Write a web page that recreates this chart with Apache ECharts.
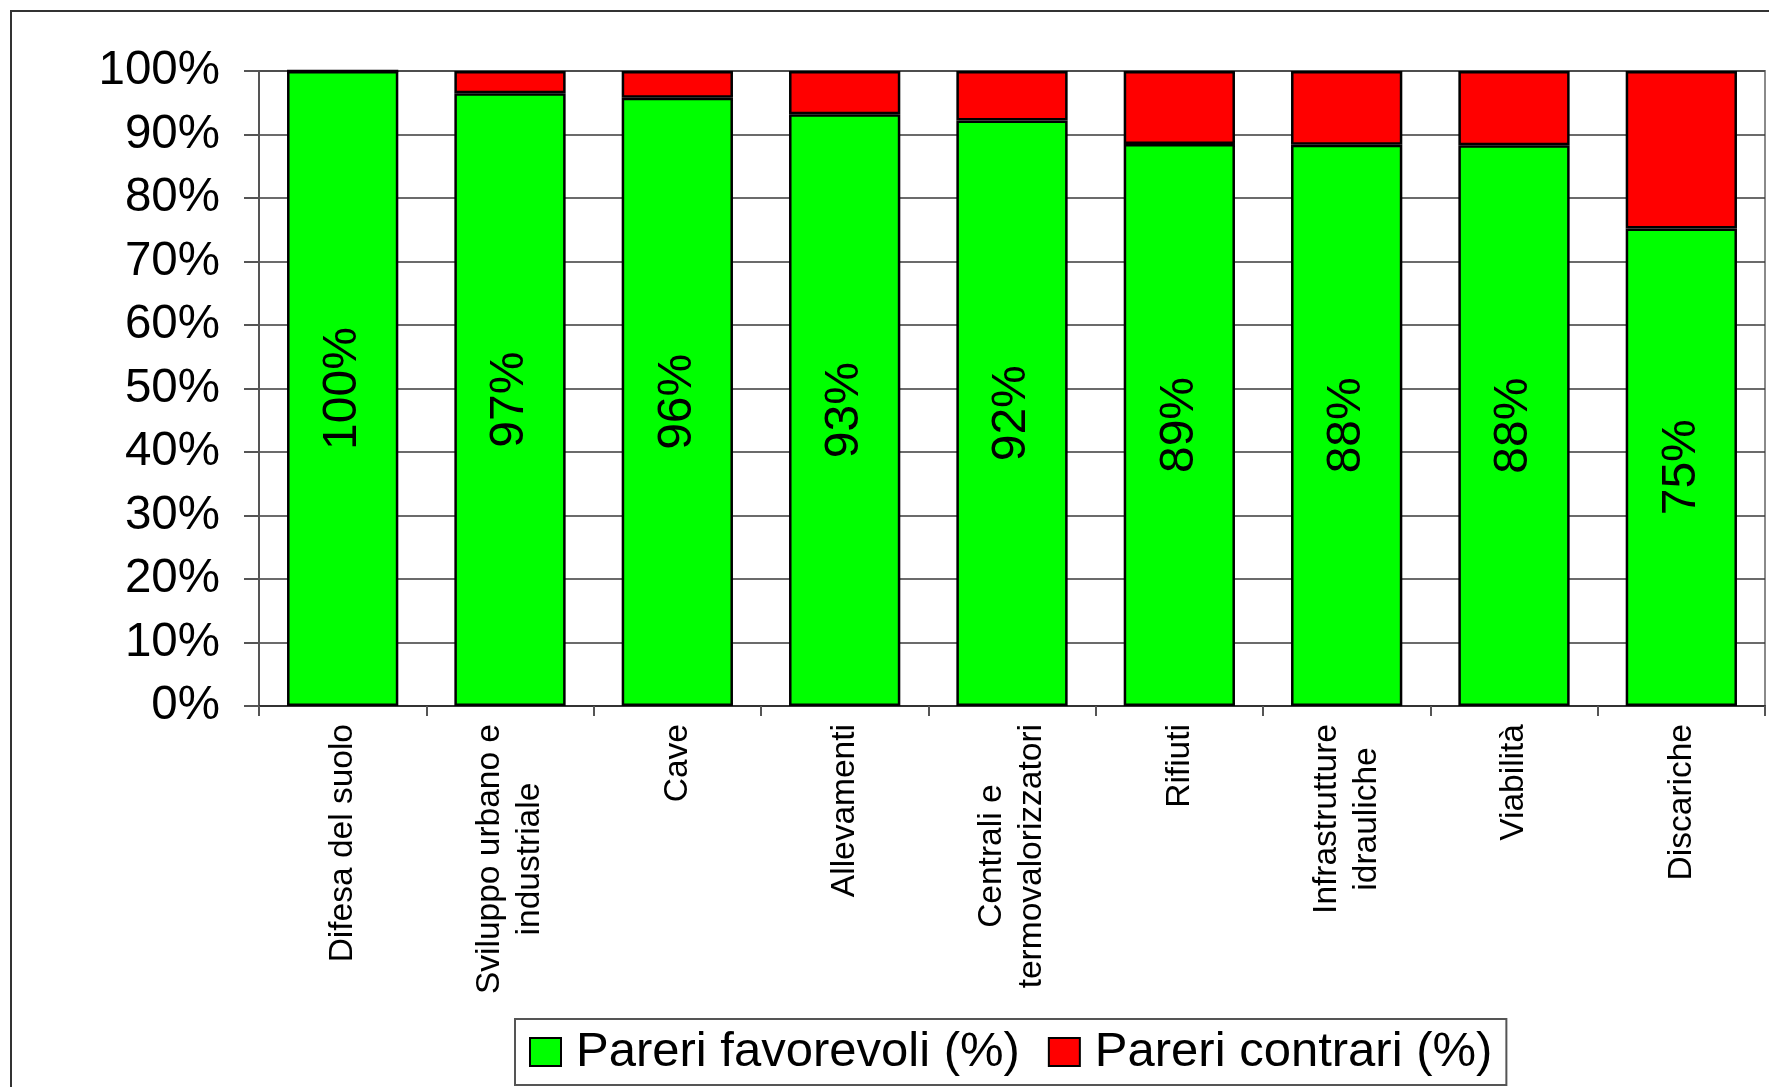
<!DOCTYPE html>
<html>
<head>
<meta charset="utf-8">
<script src="https://cdn.jsdelivr.net/npm/echarts@6/dist/echarts.min.js"></script>
<style>
html,body{margin:0;padding:0;background:#fff;}
#chart{width:1769px;height:1087px;}
</style>
</head>
<body>
<div id="chart"></div>
<script>
const categories = [
  'Difesa del suolo',
  'Sviluppo urbano e\nindustriale',
  'Cave',
  'Allevamenti',
  'Centrali e\ntermovalorizzatori',
  'Rifiuti',
  'Infrastrutture\nidrauliche',
  'Viabilità',
  'Discariche'
];
const favorevoli = [100, 96.5, 95.8, 93.2, 92.2, 88.5, 88.4, 88.3, 75.2];
const contrari = [0, 3.5, 4.2, 6.8, 7.8, 11.5, 11.6, 11.7, 24.8];
const seriesNames = ['Pareri favorevoli (%)', 'Pareri contrari (%)'];
const yTicks = [0, 10, 20, 30, 40, 50, 60, 70, 80, 90, 100];

const FONT = '"Liberation Sans", Arial, sans-serif';
const chart = echarts.init(document.getElementById('chart'));

chart.setOption({
  animation: false,
  backgroundColor: '#fff',
  graphic: [{
    type: 'rect',
    shape: { x: 11, y: 11, width: 1800, height: 1100 },
    style: { fill: 'none', stroke: '#333', lineWidth: 2 },
    silent: true,
    z: -10
  }],
  grid: {
    left: 259, right: 4, top: 71, bottom: 381,
    show: true, borderColor: '#8a8a8a', borderWidth: 2,
    containLabel: false
  },
  legend: {
    data: seriesNames,
    left: 515, top: 1019,
    orient: 'horizontal',
    padding: [8, 14, 8, 14],
    itemGap: 28,
    itemWidth: 31, itemHeight: 28,
    icon: 'rect',
    borderColor: '#555', borderWidth: 2,
    backgroundColor: '#fff',
    itemStyle: { borderColor: '#000', borderWidth: 2 },
    textStyle: { fontFamily: FONT, fontSize: 49, color: '#000', lineHeight: 50, padding: [0, 0, 0, 10] }
  },
  xAxis: {
    type: 'category',
    data: categories,
    axisLine: { lineStyle: { color: '#333', width: 2 } },
    axisTick: { show: true, length: 10, alignWithLabel: false, lineStyle: { color: '#555', width: 2 } },
    axisLabel: {
      interval: 0,
      rotate: 90,
      margin: 18,
      color: '#000',
      fontFamily: FONT,
      fontSize: 33.5,
      lineHeight: 40,
      formatter: function (v) {
        return v.split('\n').map(function (l) { return '{c|' + l + '}'; }).join('\n');
      },
      rich: {
        c: { align: 'center', fontFamily: FONT, fontSize: 33.5, lineHeight: 40, color: '#000' }
      }
    },
    splitLine: { show: false }
  },
  yAxis: {
    type: 'value',
    min: yTicks[0], max: yTicks[yTicks.length - 1], interval: 10,
    axisLine: { show: true, lineStyle: { color: '#555', width: 2 } },
    axisTick: { show: true, length: 15, lineStyle: { color: '#555', width: 2 } },
    axisLabel: {
      margin: 39,
      color: '#000',
      fontFamily: FONT,
      fontSize: 47.5,
      formatter: '{value}%'
    },
    splitLine: { show: true, lineStyle: { color: '#3a3a3a', width: 1.5 } }
  },
  series: [
    {
      name: seriesNames[0],
      type: 'bar',
      stack: 'total',
      data: favorevoli,
      barCategoryGap: '33.5%',
      itemStyle: { color: '#00ff00', borderColor: '#000', borderWidth: 2.5 },
      label: {
        show: true,
        position: 'inside',
        rotate: 90,
        color: '#000',
        fontFamily: FONT,
        fontSize: 48,
        formatter: function (p) { return Math.round(p.value) + '%'; }
      }
    },
    {
      name: seriesNames[1],
      type: 'bar',
      stack: 'total',
      data: contrari,
      barCategoryGap: '33.5%',
      itemStyle: { color: '#ff0000', borderColor: '#000', borderWidth: 2.5 },
      label: { show: false }
    }
  ]
});
</script>
</body>
</html>
